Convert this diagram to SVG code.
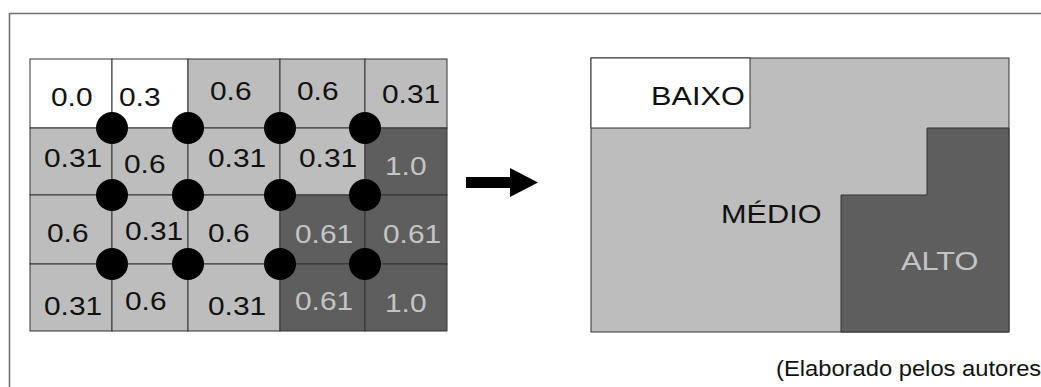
<svg xmlns="http://www.w3.org/2000/svg" width="1041" height="387" viewBox="0 0 1041 387">
<style>
.w{fill:#ffffff;stroke:#333;stroke-width:1}
.l{fill:#bdbdbd;stroke:#333;stroke-width:1}
.d{fill:#5e5e5e;stroke:#333;stroke-width:1}
text{font-family:"Liberation Sans",Arial,sans-serif;font-size:26px;fill:#111}
.lt{fill:#c4c4c4}
.dot{fill:#000}
</style>
<rect width="1041" height="387" fill="#fff"/>
<path d="M9.5,387 V13.5 H1041" fill="none" stroke="#6e6e6e" stroke-width="1.6"/>
<g id="grid">
<g id="c11"><rect class="w" x="30" y="59" width="82" height="69"/><text transform="translate(51,106) scale(1.15,1)">0.0</text></g>
<g id="c12"><rect class="w" x="112" y="59" width="76" height="69"/><text transform="translate(119,106) scale(1.15,1)">0.3</text></g>
<g id="c13"><rect class="l" x="188" y="59" width="92" height="69"/><text transform="translate(210,100) scale(1.15,1)">0.6</text></g>
<g id="c14"><rect class="l" x="280" y="59" width="85" height="69"/><text transform="translate(297,100) scale(1.15,1)">0.6</text></g>
<g id="c15"><rect class="l" x="365" y="59" width="82" height="69"/><text transform="translate(382,103) scale(1.15,1)">0.31</text></g>
<g id="c21"><rect class="l" x="30" y="128" width="82" height="67"/><text transform="translate(44,167) scale(1.15,1)">0.31</text></g>
<g id="c22"><rect class="l" x="112" y="128" width="76" height="67"/><text transform="translate(124,173) scale(1.15,1)">0.6</text></g>
<g id="c23"><rect class="l" x="188" y="128" width="92" height="67"/><text transform="translate(208,167) scale(1.15,1)">0.31</text></g>
<g id="c24"><rect class="l" x="280" y="128" width="85" height="67"/><text transform="translate(299,167) scale(1.15,1)">0.31</text></g>
<g id="c25"><rect class="d" x="365" y="128" width="82" height="67"/><text class="lt" transform="translate(385,175) scale(1.15,1)">1.0</text></g>
<g id="c31"><rect class="l" x="30" y="195" width="82" height="69"/><text transform="translate(47,242) scale(1.15,1)">0.6</text></g>
<g id="c32"><rect class="l" x="112" y="195" width="76" height="69"/><text transform="translate(125,240) scale(1.15,1)">0.31</text></g>
<g id="c33"><rect class="l" x="188" y="195" width="92" height="69"/><text transform="translate(208,242) scale(1.15,1)">0.6</text></g>
<g id="c34"><rect class="d" x="280" y="195" width="85" height="69"/><text class="lt" transform="translate(295,243) scale(1.15,1)">0.61</text></g>
<g id="c35"><rect class="d" x="365" y="195" width="82" height="69"/><text class="lt" transform="translate(383,243) scale(1.15,1)">0.61</text></g>
<g id="c41"><rect class="l" x="30" y="264" width="82" height="67"/><text transform="translate(44,315) scale(1.15,1)">0.31</text></g>
<g id="c42"><rect class="l" x="112" y="264" width="76" height="67"/><text transform="translate(125,310) scale(1.15,1)">0.6</text></g>
<g id="c43"><rect class="l" x="188" y="264" width="92" height="67"/><text transform="translate(208,315) scale(1.15,1)">0.31</text></g>
<g id="c44"><rect class="d" x="280" y="264" width="85" height="67"/><text class="lt" transform="translate(295,310) scale(1.15,1)">0.61</text></g>
<g id="c45"><rect class="d" x="365" y="264" width="82" height="67"/><text class="lt" transform="translate(385,312) scale(1.15,1)">1.0</text></g>
</g>
<g id="dots">
<circle class="dot" cx="112" cy="128" r="16"/><circle class="dot" cx="188" cy="128" r="16"/><circle class="dot" cx="280" cy="128" r="16"/><circle class="dot" cx="365" cy="128" r="16"/>
<circle class="dot" cx="112" cy="195" r="16"/><circle class="dot" cx="188" cy="195" r="16"/><circle class="dot" cx="280" cy="195" r="16"/><circle class="dot" cx="365" cy="195" r="16"/>
<circle class="dot" cx="112" cy="264" r="16"/><circle class="dot" cx="188" cy="264" r="16"/><circle class="dot" cx="280" cy="264" r="16"/><circle class="dot" cx="365" cy="264" r="16"/>
</g>
<g id="connectors">
<polygon points="466,177 510,177 510,168 538,182.5 510,197 510,188 466,188" fill="#000"/>
</g>
<g id="map">
<g id="medio"><rect class="l" x="591" y="58" width="418" height="274"/><text transform="translate(721,223) scale(1.18,1)" font-size="25">MÉDIO</text></g>
<g id="baixo"><rect class="w" x="591" y="58" width="159" height="70"/><text transform="translate(651,105) scale(1.18,1)" font-size="25">BAIXO</text></g>
<g id="alto"><polygon class="d" points="841,332 841,195 927,195 927,128 1009,128 1009,332"/><text class="lt" transform="translate(901,270) scale(1.18,1)" font-size="25">ALTO</text></g>
</g>
<text id="caption" transform="translate(776,376) scale(1.08,1)" style="font-size:22px">(Elaborado pelos autores</text>
</svg>
